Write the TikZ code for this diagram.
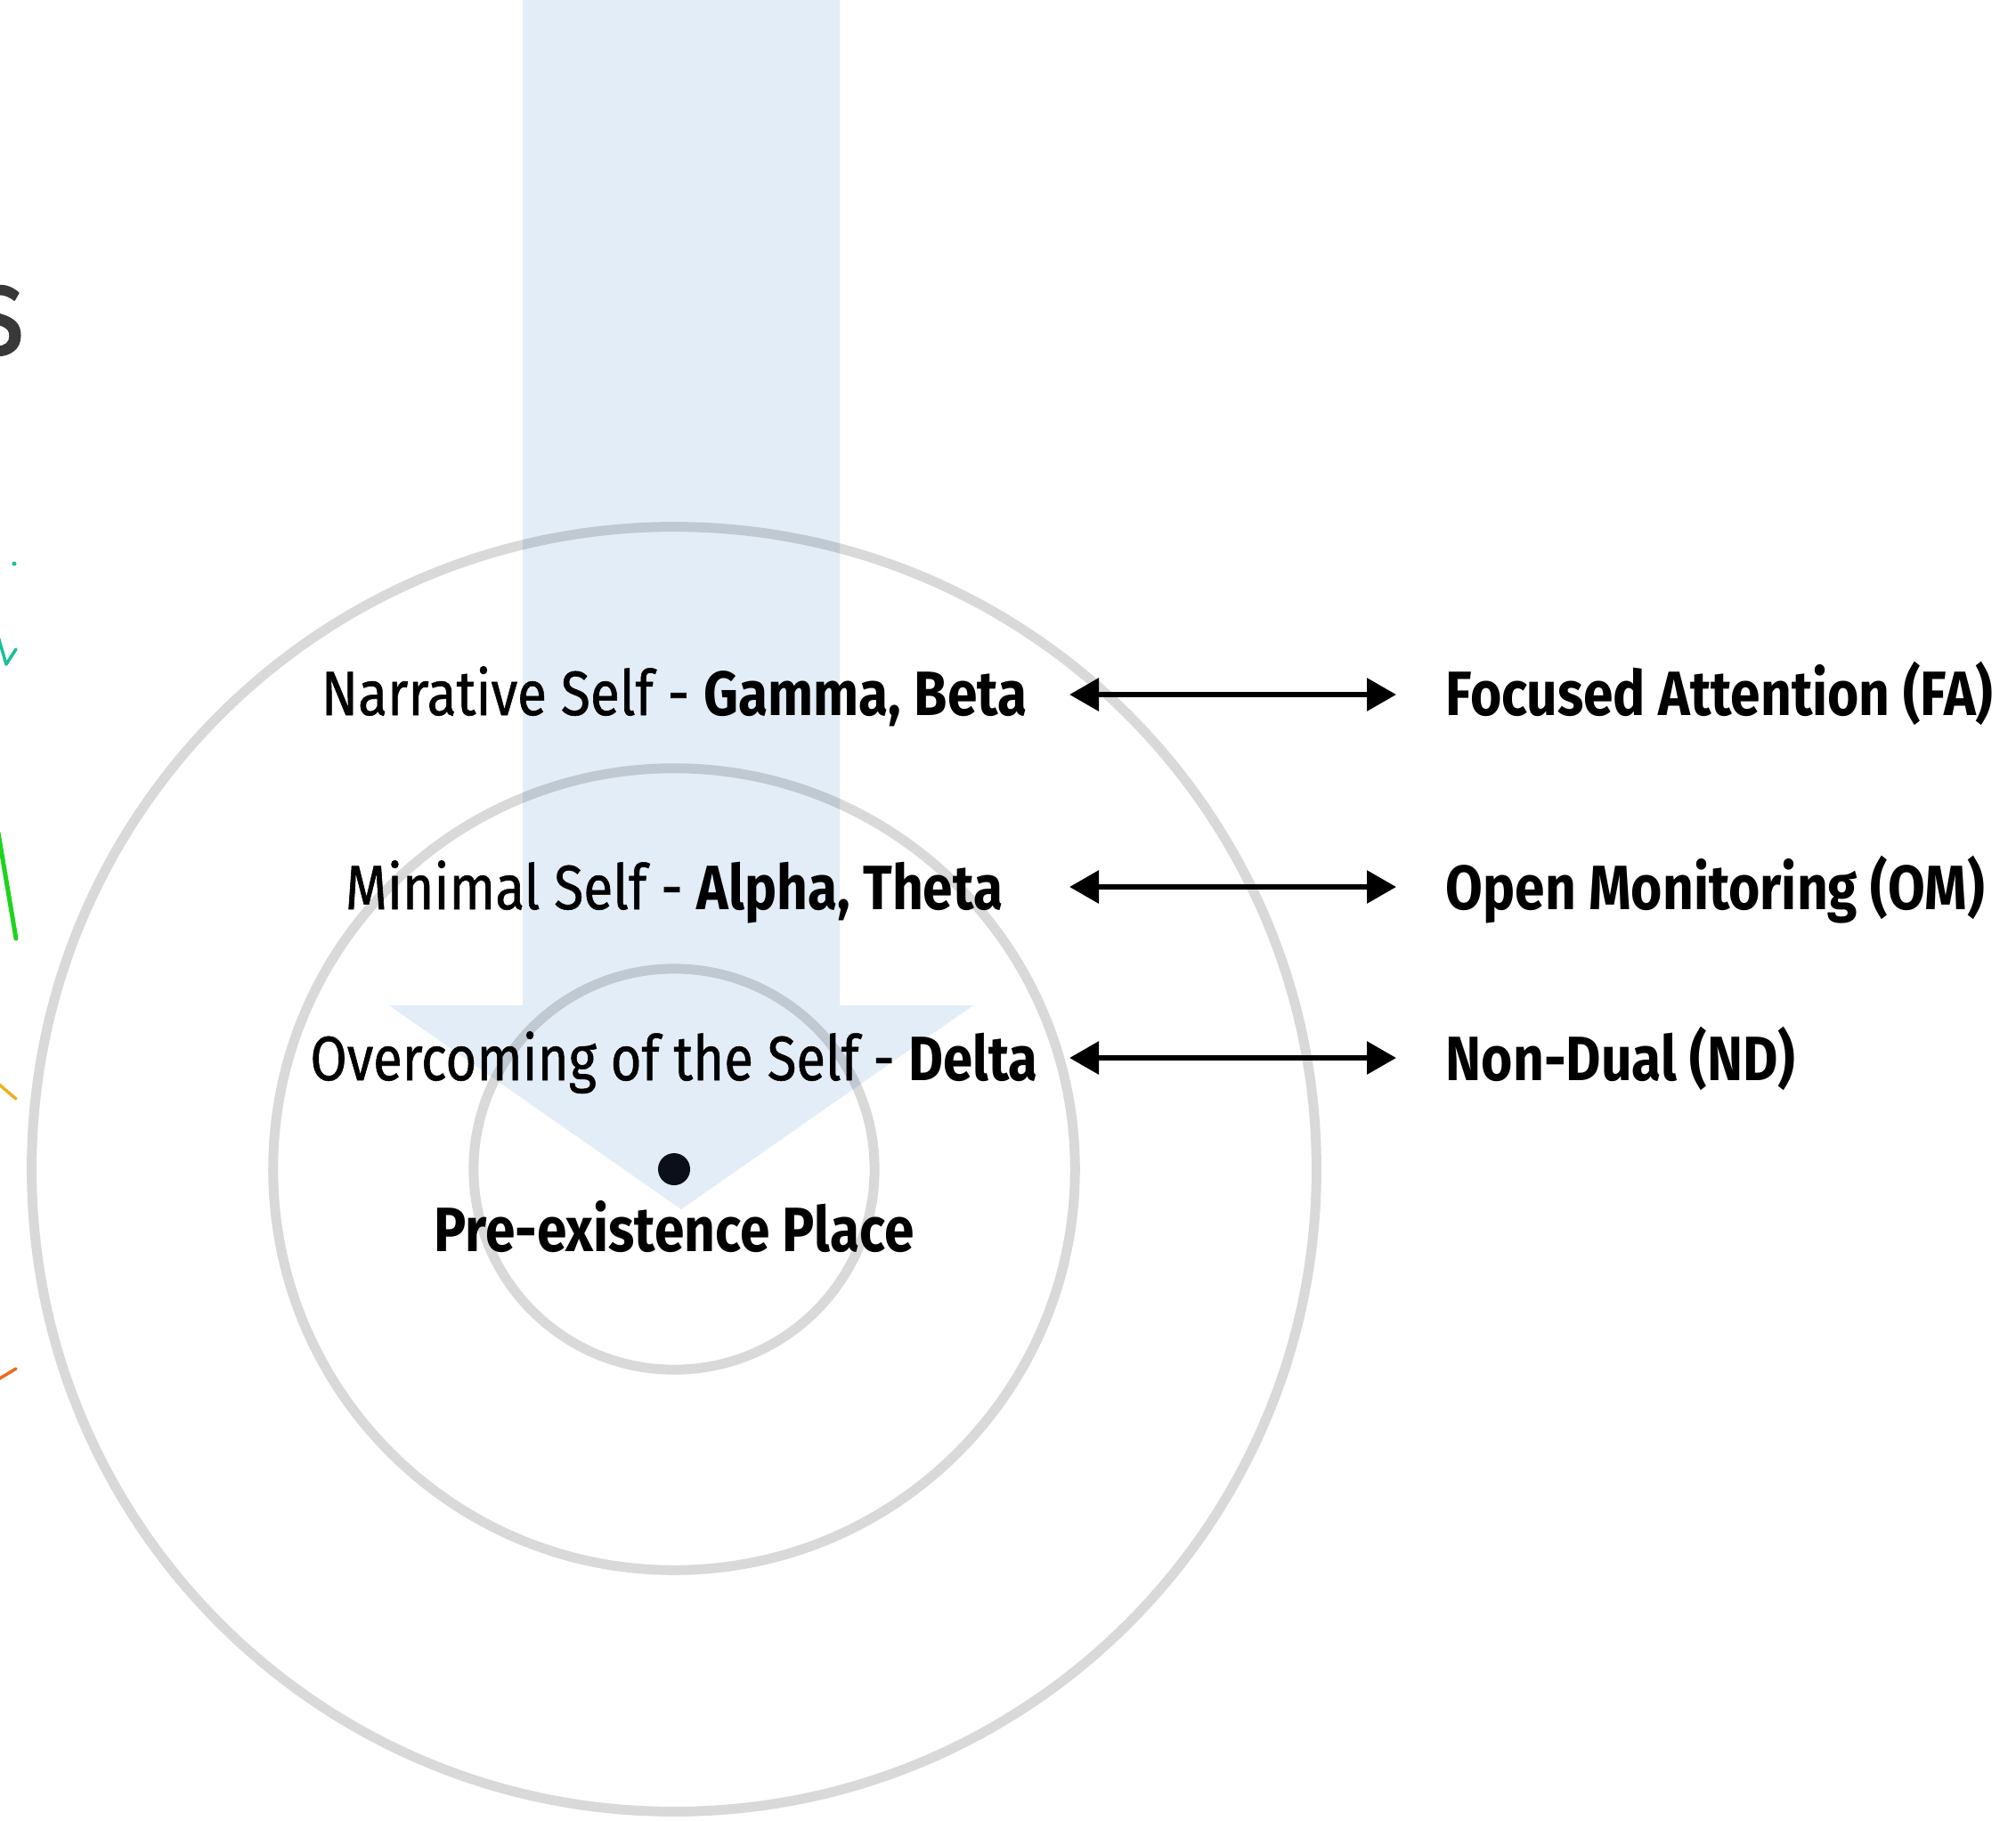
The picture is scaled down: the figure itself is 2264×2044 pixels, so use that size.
\documentclass[tikz,border=0pt]{standalone}
\usepackage{fontspec}
\setmainfont{Fira Sans}[FakeStretch=0.86, UprightFeatures={FakeBold=0.8}]
\usetikzlibrary{arrows.meta}

\definecolor{flowblue}{HTML}{E2EDF7}
\definecolor{inkdark}{HTML}{0A0F1A}
\definecolor{titlegray}{HTML}{383838}
\definecolor{waveteal}{HTML}{1DBF98}
\definecolor{wavegreen}{HTML}{1ED41E}
\definecolor{waveyellow}{HTML}{E8B21E}
\definecolor{waveorange}{HTML}{F06A1E}

\tikzset{
  ring/.style={draw=black, draw opacity=0.15, line width=0.11cm},
  level/.style={anchor=base, inner sep=0pt, font=\fontsize{20pt}{24pt}\selectfont},
  practice/.style={anchor=base west, inner sep=0pt, font=\fontsize{20pt}{24pt}\selectfont\bfseries},
  link/.style={line width=0.06cm, {Triangle[length=0.33cm,width=0.36cm]}-{Triangle[length=0.33cm,width=0.36cm]}},
  wave/.style={line width=0.035cm, line cap=round, line join=round}
}

\begin{document}
\begin{tikzpicture}[x=0.01cm, y=-0.01cm]
  % canvas
  \fill[white] (0,0) rectangle (2264,2044);
  \useasboundingbox (0,0) rectangle (2264,2044);
  \clip (0,0) rectangle (2264,2044);

  % descending flow arrow
  \fill[flowblue] (587,-5) -- (943,-5) -- (943,1129) -- (1093,1129)
        -- (765,1358) -- (437,1129) -- (587,1129) -- cycle;

  % concentric rings
  \coordinate (core) at (757,1313);
  \draw[ring] (core) circle[radius=7.21cm];
  \draw[ring] (core) circle[radius=4.50cm];
  \draw[ring] (core) circle[radius=2.25cm];

  % centre point
  \fill[inkdark] (core) circle[radius=0.18cm];

  % remains of the title and signal traces at the left edge
  \node[anchor=base east, inner sep=0pt, text=titlegray,
        font=\fontsize{41pt}{46pt}\selectfont] (ttl) at (28,398) {s};
  \fill[waveteal] (16,633) circle[radius=0.025cm];
  \draw[wave, waveteal] (-2,715) -- (7,746) -- (18,729);
  \draw[wave, wavegreen, line width=0.05cm] (-2,935) -- (18,1054);
  \draw[wave, waveyellow] (-2,1217) -- (18,1234);
  \draw[wave, waveorange] (-2,1549) -- (18,1537);

  % levels of the self
  \node[level] (narr) at (757,803) {Narrative Self - \textbf{Gamma, Beta}};
  \node[level] (mini) at (757,1021) {Minimal Self - \textbf{Alpha, Theta}};
  \node[level, xscale=0.99] (over) at (757,1213) {Overcoming of the Self - \textbf{Delta}};
  \node[level, font=\fontsize{20pt}{24pt}\selectfont\bfseries] (pre) at (757,1405) {Pre-existence Place};

  % meditation practices
  \node[practice] (fa) at (1623,803) {Focused Attention (FA)};
  \node[practice] (om) at (1623,1021) {Open Monitoring (OM)};
  \node[practice] (nd) at (1623,1213) {Non-Dual (ND)};

  % correspondences
  \coordinate (l1) at (1201,780);  \coordinate (r1) at (1568,780);
  \coordinate (l2) at (1201,996);  \coordinate (r2) at (1568,996);
  \coordinate (l3) at (1201,1188); \coordinate (r3) at (1568,1188);
  \draw[link] (l1) -- (r1);
  \draw[link] (l2) -- (r2);
  \draw[link] (l3) -- (r3);
\end{tikzpicture}
\end{document}
